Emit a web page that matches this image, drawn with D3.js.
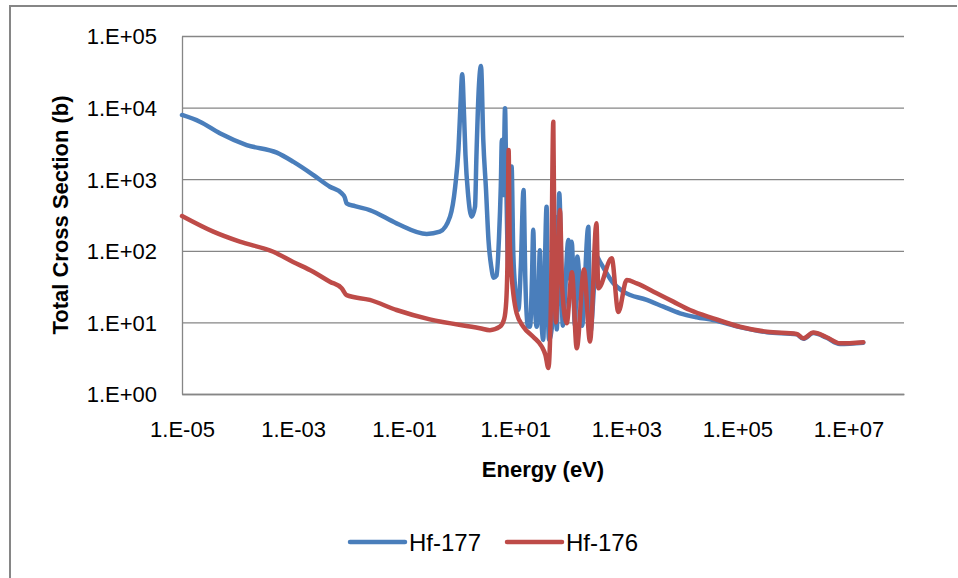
<!DOCTYPE html>
<html>
<head>
<meta charset="utf-8">
<script src="https://cdnjs.cloudflare.com/ajax/libs/d3/7.8.5/d3.min.js"></script>
<style>
  body { margin: 0; background: #fff; }
  text { font-family: "Liberation Sans", Arial, sans-serif; fill: #000; }
</style>
</head>
<body>
<div id="chart"></div>
<script>
// data (energy in eV, total cross section in barns)
var hf177Energy = [1e-5, 2.1e-5, 4.8e-5, 1.46e-4, 5.1e-4, 1.0e-3, 2.3e-3, 4.6e-3, 7.5e-3, 8.5e-3, 9.2e-3, 1.3e-2, 2.4e-2, 7.3e-2,
  0.255, 0.44, 0.67, 0.83, 0.95, 1.03, 1.11, 1.2, 1.27, 1.42, 1.64, 1.89, 2.0, 2.2, 2.42, 2.66, 2.98, 3.3, 3.7, 4.1, 4.6,
  5.1, 5.5, 5.75, 6.1, 6.55, 6.9, 7.5, 8.1, 8.6, 9.2, 10.2, 11.4, 12.6, 14.1, 15.2, 16.5, 18.5, 20, 21.1, 22.5, 24.4,
  26, 27.8, 29.5, 32, 34, 36.7, 38.5, 40.7, 46, 52, 56, 62, 72, 90.6, 97, 104, 119, 131, 150, 160, 207, 224,
  293, 336, 590, 880, 2330, 4650, 9270, 18500, 36800, 1.11e5, 3.4e5, 1.17e6, 1.54e6, 2.33e6, 4.05e6, 7.0e6, 1.85e7];
var hf177Sigma = [7890, 6350, 4380, 3000, 2350, 1760, 1150, 785, 635, 560, 460, 420, 371, 242,
  172, 185, 300, 785, 2600, 10300, 29200, 7500, 2200, 600, 300, 413, 2050, 17700, 38100, 3500, 705, 141, 60, 42, 45,
  150, 800, 3530, 600, 9800, 900, 60, 300, 1500, 100, 25, 15, 60, 705, 40, 9, 8.7, 40, 196, 20, 8.7,
  20, 102, 12, 5.7, 50, 413, 20, 5.7, 9, 300, 8, 636, 9, 141, 40, 134, 9, 83, 20, 9, 217, 7.1,
  83, 70, 35, 27, 20.6, 16.6, 13.4, 11.8, 10.8, 8.6, 7.3, 6.8, 5.9, 7.1, 6.1, 5.0, 5.2];

var hf176Energy = [1e-5, 3.66e-5, 1.1e-4, 4.4e-4, 1e-3, 2.3e-3, 4.6e-3, 7.5e-3, 9.2e-3, 2.4e-2, 7.3e-2, 0.29, 2.3, 3.5,
  5.3, 6.3, 6.9, 7.3, 7.6, 7.95, 8.4, 10.6, 14, 21, 30, 35, 39.5, 44, 48.5, 51, 54, 58, 64, 70, 84.5, 105, 128,
  173, 222, 290, 313, 546, 718, 1017, 1540, 3520, 7000, 14000, 36800, 1.11e5, 3.4e5, 1.17e6, 1.54e6, 2.33e6,
  4.05e6, 7.0e6, 1.85e7];
var hf176Sigma = [306, 185, 134, 97, 70, 51, 37, 30, 24, 20.6, 14.9, 11, 8.3, 7.8,
  8.7, 11, 20, 100, 2560, 150, 60, 13.4, 8.7, 6.3, 4.6, 3.5, 2.3, 20, 6350, 60, 10, 40, 371, 30, 9.7, 50, 4.35,
  55, 5.4, 242, 30, 78.6, 14, 39, 35, 25.5, 19.5, 14.9, 11.4, 8.7, 7.4, 6.9, 6.0, 7.2,
  6.2, 5.1, 5.3];

var seriesNames = ["Hf-177", "Hf-176"];
var seriesColors = ["#4A7EBB", "#BE4B48"];
var xTickValues = [1e-5, 1e-3, 1e-1, 1e1, 1e3, 1e5, 1e7];
var yTickValues = [1, 10, 100, 1e3, 1e4, 1e5];

var svgWidth = 958;
var svgHeight = 578;

var margin = { top: 36, right: 54, bottom: 184, left: 182 };
var width = svgWidth - margin.left - margin.right;
var height = svgHeight - margin.top - margin.bottom;

var svg = d3.select("#chart")
  .append("svg")
  .attr("width", svgWidth)
  .attr("height", svgHeight);

// outer chart border (only left and top visible)
svg.append("path")
  .attr("d", "M10,578 L10,6 L957,6")
  .attr("fill", "none")
  .attr("stroke", "#868686")
  .attr("stroke-width", 2);

var chartGroup = svg.append("g")
  .attr("transform", `translate(${margin.left}, ${margin.top})`);

var xLogScale = d3.scaleLog()
  .domain([1e-5, 1e8])
  .range([0, width]);

var yLogScale = d3.scaleLog()
  .domain([1, 1e5])
  .range([height, 0]);

// Excel style "1.E+05"
function sciFormat(v) {
  var e = Math.round(Math.log10(v));
  var sign = e < 0 ? "-" : "+";
  return "1.E" + sign + String(Math.abs(e)).padStart(2, "0");
}

// horizontal gridlines
chartGroup.append("g")
  .call(d3.axisLeft(yLogScale).tickValues(yTickValues).tickSize(-width).tickFormat(""))
  .call(g => g.select(".domain").remove())
  .call(g => g.selectAll("line").attr("stroke", "#868686").attr("stroke-width", 1.3));

// y axis line and labels
var yAxis = chartGroup.append("g")
  .call(d3.axisLeft(yLogScale).tickValues(yTickValues).tickSize(0).tickPadding(25).tickFormat(sciFormat));
yAxis.select(".domain").attr("stroke", "#868686").attr("stroke-width", 1.3);
yAxis.selectAll("text")
  .style("font-family", "'Liberation Sans', Arial, sans-serif")
  .style("font-size", "22px")
  .attr("fill", "#000")
  .attr("dy", "0.36em");

// x axis line and labels
var xAxis = chartGroup.append("g")
  .attr("transform", `translate(0, ${height})`)
  .call(d3.axisBottom(xLogScale).tickValues(xTickValues).tickSize(0).tickPadding(27).tickFormat(sciFormat));
xAxis.select(".domain").attr("stroke", "#868686").attr("stroke-width", 1.3);
xAxis.selectAll("text")
  .style("font-family", "'Liberation Sans', Arial, sans-serif")
  .style("font-size", "22px")
  .attr("fill", "#000");

// curves
var line = d3.line()
  .x(d => xLogScale(d[0]))
  .y(d => yLogScale(d[1]))
  .curve(d3.curveMonotoneX);

var series = [
  d3.zip(hf177Energy, hf177Sigma),
  d3.zip(hf176Energy, hf176Sigma)
];

chartGroup.selectAll(".series")
  .data(series)
  .enter()
  .append("path")
  .attr("class", "series")
  .attr("d", line)
  .attr("fill", "none")
  .attr("stroke", (d, i) => seriesColors[i])
  .attr("stroke-width", 4.5)
  .attr("stroke-linejoin", "round")
  .attr("stroke-linecap", "round");

// axis titles
svg.append("text")
  .attr("transform", `translate(68, ${margin.top + height / 2}) rotate(-90)`)
  .attr("text-anchor", "middle")
  .style("font-size", "22px")
  .style("font-weight", "bold")
  .text("Total Cross Section (b)");

svg.append("text")
  .attr("x", margin.left + width / 2)
  .attr("y", 477)
  .attr("text-anchor", "middle")
  .style("font-size", "22px")
  .style("font-weight", "bold")
  .text("Energy (eV)");

// legend
var legendX = [350, 507];
var legend = svg.selectAll(".legend")
  .data(seriesNames)
  .enter()
  .append("g")
  .attr("class", "legend")
  .attr("transform", (d, i) => `translate(${legendX[i]}, 542)`);

legend.append("line")
  .attr("x1", 0)
  .attr("x2", 55)
  .attr("stroke", (d, i) => seriesColors[i])
  .attr("stroke-width", 4.5)
  .attr("stroke-linecap", "round");

legend.append("text")
  .attr("x", 59)
  .attr("y", 8.5)
  .style("font-size", "24px")
  .text(d => d);
</script>
</body>
</html>
